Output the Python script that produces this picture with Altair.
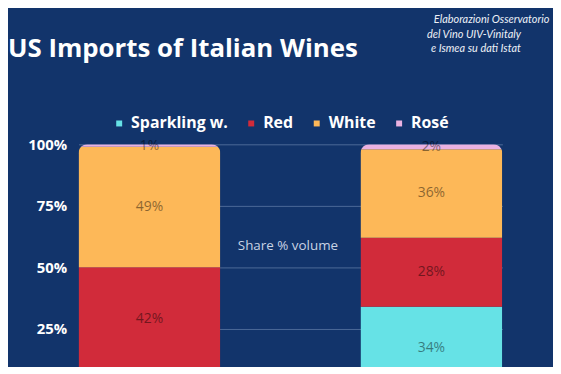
import altair as alt
import pandas as pd

# ---- data ----
periods = ["Period 1", "Period 2"]
wine_types = ["Sparkling w.", "Red", "White", "Rosé"]
share_period1 = [8, 42, 49, 1]
share_period2 = [34, 28, 36, 2]
type_colors = ["#66e2e6", "#d12b3a", "#fdb858", "#eab2e2"]
y_ticks = [25, 50, 75, 100]

rows = []
for p, shares in zip(periods, [share_period1, share_period2]):
    for i, (t, v) in enumerate(zip(wine_types, shares)):
        rows.append({"period": p, "type": t, "share": v, "order": i})
df = pd.DataFrame(rows)

NAVY = "#12346b"
FONT = "Open Sans"
Y_MIN = 10  # visible bottom of the cropped value axis

x_scale = alt.Scale(paddingInner=0.4965, paddingOuter=0)
y_scale = alt.Scale(domain=[Y_MIN, 100], nice=False, zero=False)

bars = alt.Chart(df).mark_bar(
    cornerRadiusTopLeft=9, cornerRadiusTopRight=9
).encode(
    x=alt.X("period:N", sort=periods, axis=None, scale=x_scale),
    y=alt.Y("share:Q", stack="zero", scale=y_scale, title=None,
            axis=alt.Axis(values=y_ticks, labelExpr="datum.value + '%'",
                          labelFont=FONT, labelFontWeight="bold", labelFontSize=15,
                          labelColor="white", labelPadding=12, labelFlush=False,
                          ticks=False, domain=False, grid=True,
                          gridColor="#4d6a98", gridWidth=1)),
    color=alt.Color("type:N", sort=wine_types,
                    scale=alt.Scale(domain=wine_types, range=type_colors),
                    legend=alt.Legend(title=None, orient="none", direction="horizontal",
                                      legendX=33, legendY=-29, padding=0,
                                      symbolType="square", symbolSize=36,
                                      symbolStrokeWidth=0, labelFont=FONT,
                                      labelFontWeight="bold", labelFontSize=16,
                                      labelColor="white", labelOffset=4,
                                      columnPadding=15)),
    order=alt.Order("order:Q"),
)

labels = alt.Chart(df).transform_stack(
    stack="share", as_=["s0", "s1"], groupby=["period"],
    sort=[alt.SortField("order", order="ascending")]
).transform_calculate(
    mid="(datum.s0 + datum.s1) / 2",
    label="datum.share + '%'"
).transform_filter(
    f"datum.mid >= {Y_MIN}"
).mark_text(font=FONT, fontSize=14, color="black", opacity=0.45,
            baseline="middle", align="center").encode(
    x=alt.X("period:N", sort=periods, axis=None, scale=x_scale, bandPosition=0.5),
    y=alt.Y("mid:Q", scale=y_scale),
    text="label:N",
)

title_txt = alt.Chart(pd.DataFrame({"t": ["US Imports of Italian Wines"]})).mark_text(
    font=FONT, fontSize=26, fontWeight="bold", color="white",
    align="left", baseline="alphabetic"
).encode(text="t:N", x=alt.value(-71), y=alt.value(-88))

src_lines = ["Elaborazioni Osservatorio", "del Vino UIV-Vinitaly", "e Ismea su dati Istat"]
src_x = [358, 351, 355]
src_y = [-122, -107.5, -93]
src_layers = [
    alt.Chart(pd.DataFrame({"t": [s]})).mark_text(
        font="Lato", fontSize=11, fontStyle="italic", color="#eef1f7",
        align="left", baseline="alphabetic"
    ).encode(text="t:N", x=alt.value(xx), y=alt.value(yy))
    for s, xx, yy in zip(src_lines, src_x, src_y)
]

share_txt = alt.Chart(pd.DataFrame({"t": ["Share % volume"]})).mark_text(
    font=FONT, fontSize=13.5, color="#c9d3e4", align="center", baseline="alphabetic"
).encode(text="t:N", x=alt.value(211), y=alt.value(106))

chart = alt.layer(bars, share_txt, labels, title_txt, *src_layers).properties(
    width=427, height=223,
    padding={"left": 71, "top": 136, "right": 51, "bottom": 0},
    autosize=alt.AutoSizeParams(type="none"),
    background=NAVY,
).configure_view(stroke=None)

chart.save("out.html", embed_options={"renderer": "svg", "actions": False})
